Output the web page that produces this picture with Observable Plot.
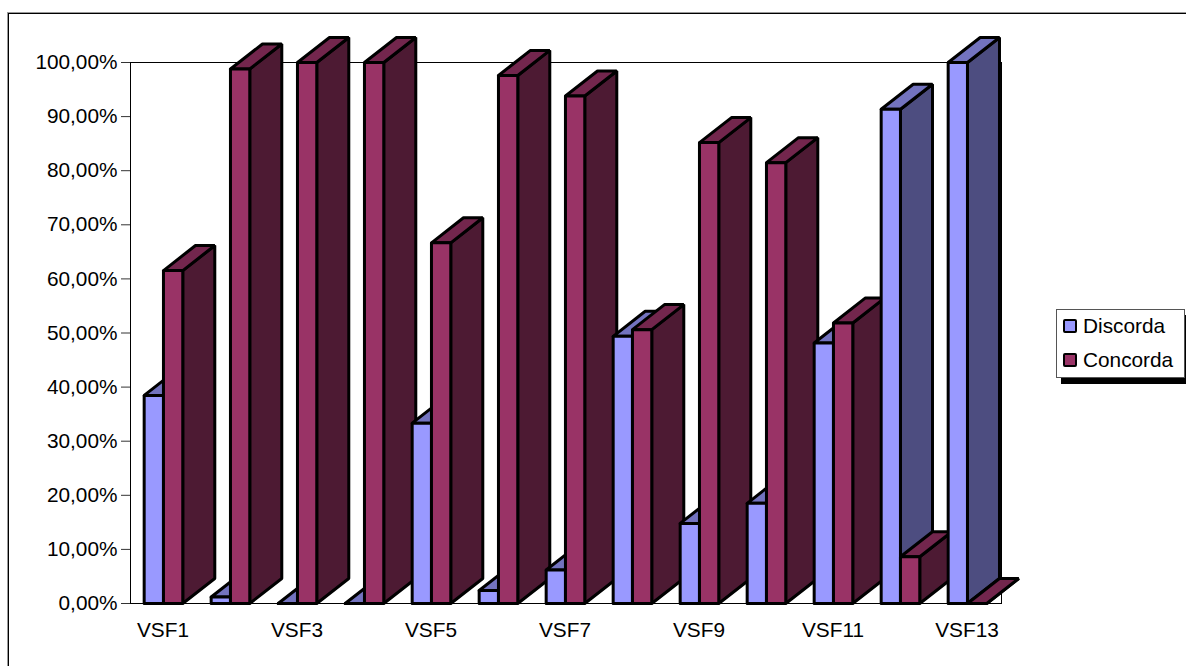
<!DOCTYPE html>
<html>
<head>
<meta charset="utf-8">
<script src="https://cdn.jsdelivr.net/npm/d3@7"></script>
<script src="https://cdn.jsdelivr.net/npm/@observablehq/plot@0.6"></script>
<style>
  html, body { margin: 0; background: #fff; }
  #page { position: relative; width: 1186px; height: 666px; overflow: hidden; font-family: "Liberation Sans", Arial, sans-serif; }
  #border { position: absolute; left: 8px; top: 13px; right: -4px; bottom: -4px; border: 1px solid #000; box-shadow: -1px -1px 0 #999; }
  #legend { position: absolute; left: 1056px; top: 309px; width: 127px; height: 67px; background: #fff; border: 1px solid #555; box-shadow: 5px 6px 0 #000; font-size: 20.8px; color: #000; }
  .entry { position: absolute; left: 6px; display: flex; align-items: center; height: 22px; }
  .swatch { width: 10px; height: 10px; border: 2.5px solid #000; border-radius: 2px; margin-right: 6px; }
  svg { display: block; position: absolute; left: 0; top: 0; background: transparent; }
</style>
</head>
<body>
<div id="page">
  <div id="border"></div>
  <div id="chart"></div>
  <div id="legend"></div>
</div>
<script>
// Share of answers per statement, in percent
const categories = ["VSF1","VSF2","VSF3","VSF4","VSF5","VSF6","VSF7","VSF8","VSF9","VSF10","VSF11","VSF12","VSF13"];
const discorda = [38.46, 1.2, 0, 0, 33.33, 2.4, 6.2, 49.38, 14.81, 18.52, 48.15, 91.36, 100];
const concorda = [61.54, 98.8, 100, 100, 66.67, 97.6, 93.8, 50.62, 85.19, 81.48, 51.85, 8.64, 0];

// Series colours: front, top and side faces of each column
const palette = {
  Discorda: {front: "#9999ff", top: "#7373bf", side: "#4d4d80"},
  Concorda: {front: "#993366", top: "#73264d", side: "#4d1a33"}
};

// Column width and the pseudo-3D extrusion, in data units
const barW = 0.288;
const depthX = 0.478;
const depthY = 4.63;

// Each column becomes three closed polygons, painted back to front
const faces = [];
function addFace(id, color, pts) {
  [...pts, pts[0]].forEach(([x, y]) => faces.push({id, color, x, y}));
}
function addColumn(key, x0, v, name) {
  const x1 = x0 + barW;
  const c = palette[name];
  addFace(key + "side", c.side, [[x1, 0], [x1 + depthX, depthY], [x1 + depthX, v + depthY], [x1, v]]);
  addFace(key + "top", c.top, [[x0, v], [x1, v], [x1 + depthX, v + depthY], [x0 + depthX, v + depthY]]);
  addFace(key + "front", c.front, [[x0, 0], [x1, 0], [x1, v], [x0, v]]);
}
categories.forEach((cat, i) => {
  const mid = i + 0.5 - 0.008;
  addColumn(cat + "d", mid - barW, discorda[i], "Discorda");
  addColumn(cat + "c", mid, concorda[i], "Concorda");
});

const fmtPct = d => d3.format(".2f")(d).replace(".", ",") + "%";

const chart = Plot.plot({
  width: 1186,
  height: 666,
  marginLeft: 130,
  marginRight: 185,
  marginTop: 62,
  marginBottom: 63,
  style: {fontFamily: '"Liberation Sans", Arial, sans-serif', fontSize: "20.8px", color: "#000", overflow: "visible"},
  x: {domain: [0, 13]},
  y: {domain: [0, 100]},
  color: {type: "identity"},
  marks: [
    Plot.frame({stroke: "#000", strokeWidth: 1}),
    Plot.axisY({ticks: d3.range(0, 101, 10), tickFormat: fmtPct, tickSize: 9, tickPadding: 4, label: null, stroke: "#333"}),
    Plot.axisX({
      ticks: d3.range(0, 13, 2).map(i => i + 0.5),
      tickFormat: d => categories[Math.floor(d)],
      tickSize: 0,
      tickPadding: 19,
      dx: -1,
      label: null
    }),
    Plot.line(faces, {
      x: "x",
      y: "y",
      z: "id",
      fill: "color",
      stroke: "#000",
      strokeWidth: 3,
      strokeLinejoin: "miter",
      strokeOpacity: 1
    })
  ]
});
document.getElementById("chart").appendChild(chart);

// Legend box at the right of the chart
const legend = document.getElementById("legend");
["Discorda", "Concorda"].forEach((name, i) => {
  const row = document.createElement("div");
  row.className = "entry";
  row.style.top = (5 + i * 34) + "px";
  const sw = document.createElement("span");
  sw.className = "swatch";
  sw.style.background = palette[name].front;
  row.appendChild(sw);
  row.appendChild(document.createTextNode(name));
  legend.appendChild(row);
});
</script>
</body>
</html>
